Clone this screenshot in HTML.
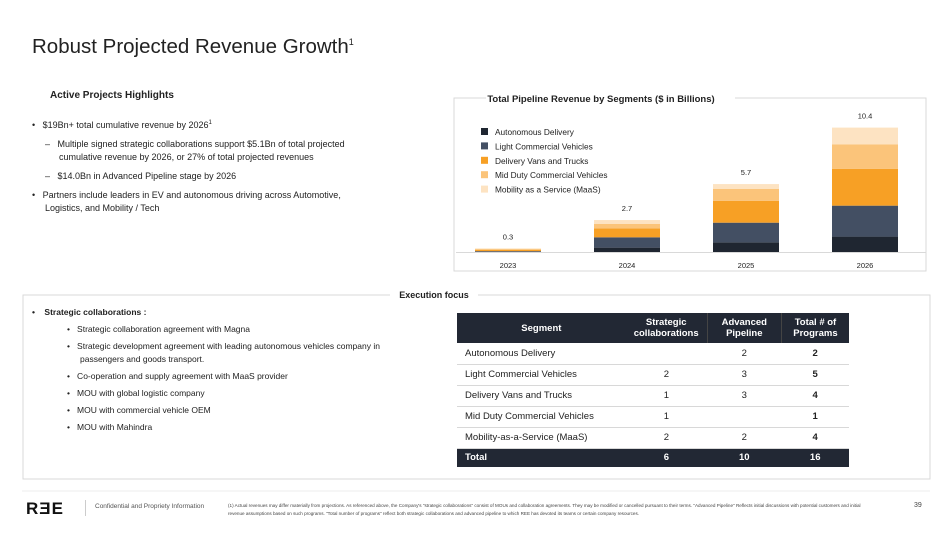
<!DOCTYPE html>
<html><head><meta charset="utf-8">
<style>
*{margin:0;padding:0;box-sizing:border-box}
body{width:950px;height:534px;background:#fff;font-family:"Liberation Sans",sans-serif;color:#222;position:relative;overflow:hidden}
.abs{position:absolute}
.t{font-size:9px;line-height:13px}
table{border-collapse:collapse;font-size:9.5px}
td,th{height:21px;padding:0 8px}
th{background:#222834;color:#fff;font-weight:bold;text-align:center;line-height:11px}
tbody td{border-bottom:1px solid #d8d8d8}
td.n{text-align:center}
tr.tot td{background:#222834;color:#fff;font-weight:bold;border:none;height:19px}
</style></head><body>
<div class="abs" style="left:32px;top:35px;font-size:20.5px;color:#222">Robust Projected Revenue Growth<sup style="font-size:9px">1</sup></div>
<div class="abs" style="left:50px;top:90px;font-size:10px;font-weight:bold">Active Projects Highlights</div>
<div class="abs t" style="left:32px;top:117px;width:340px">
<div style="padding-left:13px;text-indent:-13px">•&nbsp;&nbsp; $19Bn+ total cumulative revenue by 2026<sup style="font-size:6px">1</sup></div>
<div style="padding-left:27px;text-indent:-14px;margin-top:6px">–&nbsp;&nbsp; Multiple signed strategic collaborations support $5.1Bn of total projected cumulative revenue by 2026, or 27% of total projected revenues</div>
<div style="padding-left:27px;text-indent:-14px;margin-top:6px">–&nbsp;&nbsp; $14.0Bn in Advanced Pipeline stage by 2026</div>
<div style="padding-left:13px;text-indent:-13px;margin-top:6px">•&nbsp;&nbsp; Partners include leaders in EV and autonomous driving across Automotive, Logistics, and Mobility / Tech</div>
</div>

<svg class="abs" style="left:0;top:0" width="950" height="534">
<g id="frame" stroke="#d9d9d9" fill="none">
<path d="M486 98 H454 V271 H926 V98 H735"/>
</g>
<text x="601" y="102" font-size="9.5" font-weight="bold" text-anchor="middle" fill="#222">Total Pipeline Revenue by Segments ($ in Billions)</text>
<g id="legend"></g>
<g id="bars"></g>
<line x1="456" y1="252.5" x2="926" y2="252.5" stroke="#d9d9d9"/>
<g id="xlabels"></g>
</svg>

<svg class="abs" style="left:0;top:0" width="950" height="534">
<path d="M390 295 H23 V479 H930 V295 H478" fill="none" stroke="#d9d9d9"/>
<text x="434" y="298" font-size="9" font-weight="bold" text-anchor="middle" fill="#222">Execution focus</text>
<line x1="22" y1="491" x2="930" y2="491" stroke="#eee"/>
</svg>

<div class="abs t" style="left:32px;top:306px;font-size:8.5px;width:385px">
<div style="font-weight:bold">•&nbsp;&nbsp;&nbsp; Strategic collaborations :</div>
<div style="padding-left:48px;text-indent:-13px;margin-top:4px">•&nbsp;&nbsp; Strategic collaboration agreement with Magna</div>
<div style="padding-left:48px;text-indent:-13px;margin-top:4px">•&nbsp;&nbsp; Strategic development agreement with leading autonomous vehicles company in passengers and goods transport.</div>
<div style="padding-left:48px;text-indent:-13px;margin-top:4px">•&nbsp;&nbsp; Co-operation and supply agreement with MaaS provider</div>
<div style="padding-left:48px;text-indent:-13px;margin-top:4px">•&nbsp;&nbsp; MOU with global logistic company</div>
<div style="padding-left:48px;text-indent:-13px;margin-top:4px">•&nbsp;&nbsp; MOU with commercial vehicle OEM</div>
<div style="padding-left:48px;text-indent:-13px;margin-top:4px">•&nbsp;&nbsp; MOU with Mahindra</div>
</div>

<table class="abs" style="left:457px;top:313px;width:392px">
<thead><tr style="height:30px"><th style="width:175px">Segment</th><th style="width:74px">Strategic<br>collaborations</th><th style="width:75px;border-left:1px solid #444">Advanced<br>Pipeline</th><th style="width:68px;border-left:1px solid #444">Total # of<br>Programs</th></tr></thead>
<tbody>
<tr><td>Autonomous Delivery</td><td class="n"></td><td class="n">2</td><td class="n"><b>2</b></td></tr>
<tr><td>Light Commercial Vehicles</td><td class="n">2</td><td class="n">3</td><td class="n"><b>5</b></td></tr>
<tr><td>Delivery Vans and Trucks</td><td class="n">1</td><td class="n">3</td><td class="n"><b>4</b></td></tr>
<tr><td>Mid Duty Commercial Vehicles</td><td class="n">1</td><td class="n"></td><td class="n"><b>1</b></td></tr>
<tr><td>Mobility-as-a-Service (MaaS)</td><td class="n">2</td><td class="n">2</td><td class="n"><b>4</b></td></tr>
<tr class="tot"><td>Total</td><td class="n">6</td><td class="n">10</td><td class="n">16</td></tr>
</tbody></table>

<div class="abs" style="left:26px;top:499px;font-size:17px;font-weight:bold;letter-spacing:1px;color:#111">RƎE</div>
<div class="abs" style="left:85px;top:500px;width:1px;height:16px;background:#ccc"></div>
<div class="abs" style="left:95px;top:503px;font-size:6.5px;color:#555">Confidential and Propriety Information</div>
<div class="abs" style="left:228px;top:502px;width:650px;font-size:4.6px;line-height:8px;color:#444">(1) Actual revenues may differ materially from projections. As referenced above, the Company's "strategic collaborations" consist of MOUs and collaboration agreements. They may be modified or cancelled pursuant to their terms. "Advanced Pipeline" Reflects initial discussions with potential customers and initial revenue assumptions based on such programs. "Total number of programs" reflect both strategic collaborations and advanced pipeline to which REE has devoted its teams or certain company resources.</div>
<div class="abs" style="left:914px;top:502px;font-size:7px;color:#444">39</div>

<script>
const years=["2023","2024","2025","2026"];
const autonomousDelivery=[0.05,0.39,0.83,1.31];
const lightCommercial=[0.05,0.86,1.64,2.58];
const deliveryVans=[0.1,0.75,1.83,3.06];
const midDuty=[0.1,0.36,1.0,2.06];
const maas=[0,0.33,0.39,1.39];
const totals=["0.3","2.7","5.7","10.4"];
const seriesNames=["Autonomous Delivery","Light Commercial Vehicles","Delivery Vans and Trucks","Mid Duty Commercial Vehicles","Mobility as a Service (MaaS)"];
const colors=["#1f2631","#434f63","#f7a025","#fbc47a","#fde3c2"];
const series=[autonomousDelivery,lightCommercial,deliveryVans,midDuty,maas];
const NS="http://www.w3.org/2000/svg";
const y0=252.3, pxPerUnit=11.99;
const yScale=v=>v*pxPerUnit;
const xScale=i=>508+i*119;
const barW=66;
const gb=document.getElementById('bars');
years.forEach((yr,i)=>{
  let acc=0;
  series.forEach((s,k)=>{
    const h=yScale(s[i]);
    const r=document.createElementNS(NS,'rect');
    r.setAttribute('x',xScale(i)-barW/2);
    r.setAttribute('y',y0-yScale(acc)-h);
    r.setAttribute('width',barW);r.setAttribute('height',h);
    r.setAttribute('fill',colors[k]);
    
    
    gb.appendChild(r);
    acc+=s[i];
  });
  const t=document.createElementNS(NS,'text');
  t.setAttribute('x',xScale(i));t.setAttribute('y',y0-yScale(acc)-9);
  t.setAttribute('font-size','7.5');t.setAttribute('text-anchor','middle');t.setAttribute('fill','#222');
  t.textContent=totals[i];
  
  
  gb.appendChild(t);
  const l=document.createElementNS(NS,'text');
  l.setAttribute('x',xScale(i));l.setAttribute('y',268);
  l.setAttribute('font-size','7.5');l.setAttribute('text-anchor','middle');l.setAttribute('fill','#222');
  l.textContent=yr;
  
  
  document.getElementById('xlabels').appendChild(l);
});
const gl=document.getElementById('legend');
seriesNames.forEach((n,k)=>{
  const y=128+k*14.4;
  const r=document.createElementNS(NS,'rect');
  r.setAttribute('x',481);r.setAttribute('y',y);r.setAttribute('width',7);r.setAttribute('height',7);r.setAttribute('fill',colors[k]);
  
  
  gl.appendChild(r);
  const t=document.createElementNS(NS,'text');
  t.setAttribute('x',495);t.setAttribute('y',y+7);t.setAttribute('font-size','8.3');t.setAttribute('fill','#222');
  t.textContent=n;
  
  
  gl.appendChild(t);
});
</script>
</body></html>
